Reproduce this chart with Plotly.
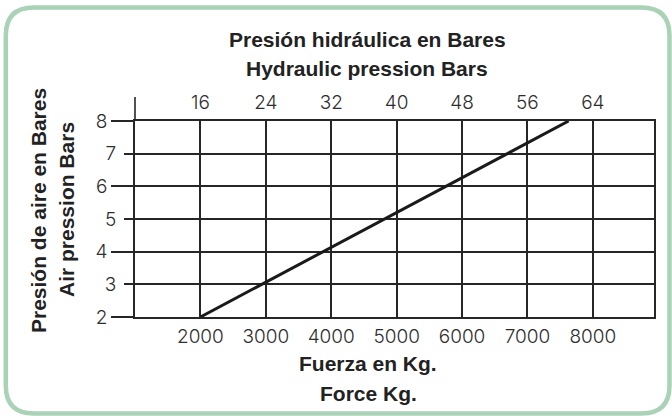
import plotly.graph_objects as go

# Force (kg) versus air pressure (bar) for the hydraulic booster
force_kg = [2000, 7630]
air_bar = [2, 8]

force_ticks = [2000, 3000, 4000, 5000, 6000, 7000, 8000]
hyd_ticks = [16, 24, 32, 40, 48, 56, 64]
air_even = [2, 4, 6, 8]
air_odd = [3, 5, 7]

W, H = 672, 416
L, R, T, B = 135, 18, 121, 99
PW, PH = W - L - R, H - T - B

x_range = [1000, 8935]
kg_to_bar = 16 / 2000  # hydraulic bar per kg of force

INK = "#262626"
LABEL = "#2e2e2e"
FRAME = "#a9d2b6"
TICK_FONT = dict(family="Inter, DejaVu Sans", size=19, color=LABEL, weight=300)
TITLE_FONT = dict(family="Liberation Sans", size=21, color="#222222")


def px(x):
    return (x - L) / PW


def py(y):
    return (H - B - y) / PH


def rounded_frame(x0, y0, x1, y1, r):
    rx, ry = r / PW, r / PH
    a0, a1 = px(x0), px(x1)
    b0, b1 = py(y1), py(y0)  # bottom, top in paper units
    return (
        f"M {a0 + rx},{b1} L {a1 - rx},{b1} Q {a1},{b1} {a1},{b1 - ry} "
        f"L {a1},{b0 + ry} Q {a1},{b0} {a1 - rx},{b0} "
        f"L {a0 + rx},{b0} Q {a0},{b0} {a0},{b0 + ry} "
        f"L {a0},{b1 - ry} Q {a0},{b1} {a0 + rx},{b1} Z"
    )


fig = go.Figure()
fig.add_trace(go.Scatter(
    x=force_kg, y=air_bar, mode="lines",
    line=dict(color="#1a1a1a", width=3), hoverinfo="skip", showlegend=False,
))
# companion trace so the top (hydraulic) and odd-tick axes are drawn
fig.add_trace(go.Scatter(
    x=[v * kg_to_bar for v in force_kg], y=air_bar, xaxis="x2", yaxis="y3",
    mode="lines", line=dict(width=0, color="rgba(0,0,0,0)"),
    hoverinfo="skip", showlegend=False,
))

fig.update_layout(
    width=W, height=H,
    margin=dict(l=L, r=R, t=T, b=B),
    paper_bgcolor="white", plot_bgcolor="white",
    xaxis=dict(
        range=x_range, tickvals=force_ticks, ticks="",
        showgrid=True, gridcolor=INK, gridwidth=1.6,
        showline=True, linecolor=INK, linewidth=1.6, mirror=True,
        zeroline=False, tickfont=TICK_FONT, ticklabelstandoff=1,
    ),
    xaxis2=dict(
        range=[x_range[0] * kg_to_bar, x_range[1] * kg_to_bar],
        tickvals=hyd_ticks, overlaying="x", side="top", anchor="y3",
        showgrid=False, showline=False, ticks="", zeroline=False,
        tickfont=TICK_FONT, ticklabelstandoff=7,
    ),
    yaxis=dict(
        range=[2, 8], tickvals=air_even, ticks="outside", ticklen=22,
        tickcolor=INK, tickwidth=1.6,
        showgrid=True, gridcolor=INK, gridwidth=1.6,
        showline=True, linecolor=INK, linewidth=1.6, mirror=True,
        zeroline=False, tickfont=TICK_FONT, ticklabelstandoff=0,
    ),
    yaxis3=dict(
        range=[2, 8], tickvals=air_odd, overlaying="y", side="left",
        anchor="x", ticks="outside", ticklen=10, tickcolor=INK, tickwidth=1.6,
        showgrid=True, gridcolor=INK, gridwidth=1.6,
        showline=False, zeroline=False, tickfont=TICK_FONT, ticklabelstandoff=4,
    ),
    shapes=[
        # left axis continues above the top grid line
        dict(type="line", xref="paper", yref="paper", x0=0, x1=0,
             y0=1, y1=py(97), line=dict(color=INK, width=1.6)),
        dict(type="path", xref="paper", yref="paper",
             path=rounded_frame(5.8, 7.5, 669.5, 413.5, 28),
             line=dict(color=FRAME, width=4.5)),
    ],
)

titles = [
    ("<b>Presión hidráulica en Bares</b>", 367, 39, 0),
    ("<b>Hydraulic pression Bars</b>", 367, 68, 0),
    ("<b>Fuerza en Kg.</b>", 368, 363, 0),
    ("<b>Force Kg.</b>", 368, 393, 0),
    ("<b>Presión de aire en Bares</b>", 38, 211, -90),
    ("<b>Air pression Bars</b>", 66, 210, -90),
]
for text, tx, ty, ang in titles:
    fig.add_annotation(
        text=text, xref="paper", yref="paper", x=px(tx), y=py(ty),
        xanchor="center", yanchor="middle", showarrow=False,
        textangle=ang, font=TITLE_FONT,
    )

fig.write_html("out.html")
